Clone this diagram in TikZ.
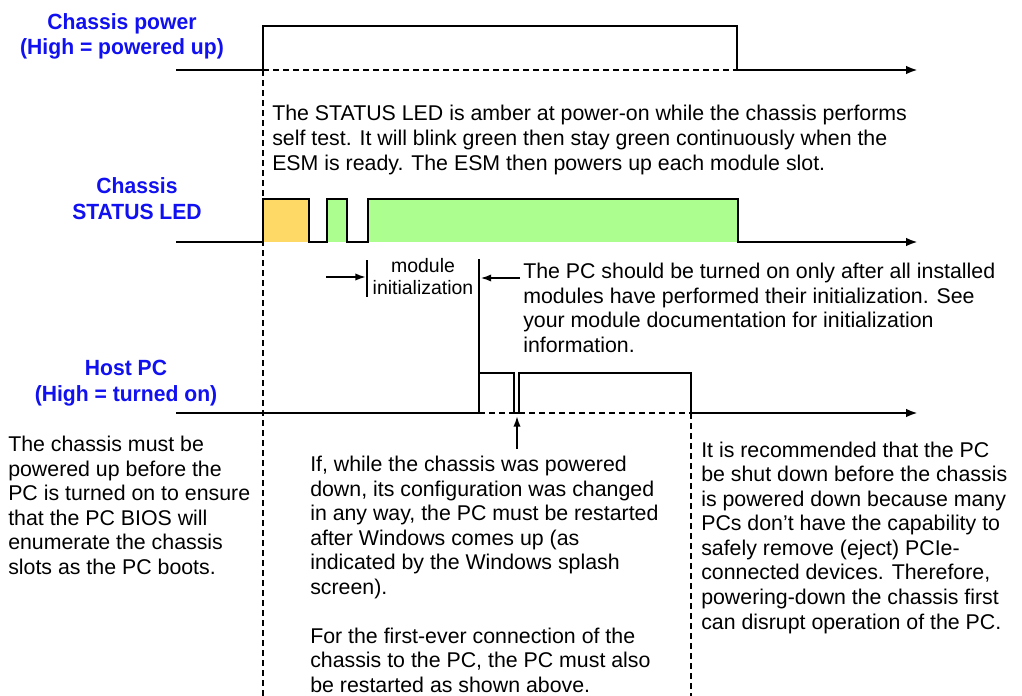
\documentclass[tikz,border=0pt]{standalone}
\usepackage{fontspec}
\setmainfont{Liberation Sans}
\newfontfamily\bodyfont{Liberation Sans}[FakeStretch=1.0]
\newfontfamily\labelfont{Liberation Sans}[FakeStretch=0.96]
\usetikzlibrary{arrows.meta}
\definecolor{lblue}{RGB}{16,16,240}
\definecolor{amber}{RGB}{255,217,102}
\definecolor{ledgreen}{RGB}{172,255,142}
\begin{document}
\begin{tikzpicture}[x=0.75pt,y=-0.75pt,
  sig/.style={line width=1.9pt, line join=miter},
  sigarrow/.style={sig, -{Latex[length=9pt,width=6.5pt]}},
  guide/.style={dash pattern=on 4.5pt off 3pt, line width=1.1pt},
  thinline/.style={line width=1.1pt},
  thinarrow/.style={line width=1.4pt, -{Latex[length=8pt,width=5.5pt]}},
  body/.style={font=\bodyfont\fontsize{16}{18.4}\selectfont, align=left, anchor=base west, inner sep=0pt},
  small/.style={font=\bodyfont\fontsize{14.6}{16.5}\selectfont, align=center, anchor=base, inner sep=0pt},
  lbl/.style={font=\labelfont\bfseries\fontsize{16.5}{19.5}\selectfont, text=lblue, align=center, anchor=base, inner sep=0pt}]
\useasboundingbox (0,0) rectangle (1022,696);

% labels (anchored at the baseline of the last line)
\node[lbl] (lpow) at (122,55) {Chassis power\\(High = powered up)};
\node[lbl] (lled) at (137,219) {Chassis\\STATUS LED};
\node[lbl] (lpc) at (126,401) {Host PC\\(High = turned on)};

% LED fills
\fill[amber] (263,199) rectangle (309,242);
\fill[ledgreen] (327,199) rectangle (347,242);
\fill[ledgreen] (368,199) rectangle (738,242);

% guides
\coordinate (g1t) at (263,70);
\coordinate (g1b) at (263,696);
\coordinate (g2t) at (691,413);
\coordinate (g2b) at (691,696);
\draw[guide] (g1t) -- (g1b);
\draw[guide] (g2t) -- (g2b);
\draw[guide] (263,70) -- (737,70);
\draw[guide] (479,413) -- (691,413);

% chassis power
\coordinate (p0) at (176,70);
\coordinate (pe) at (918,70);
\draw[sigarrow] (p0) -- (263,70) -- (263,26) -- (737,26) -- (737,70) -- (pe);

% LED
\coordinate (l0) at (176,242);
\coordinate (le) at (918,242);
\draw[sigarrow] (l0) -- (263,242) -- (263,199) -- (309,199) -- (309,242) -- (327,242) -- (327,199) -- (347,199) -- (347,242) -- (368,242) -- (368,199) -- (738,199) -- (738,242) -- (le);

% Host PC
\coordinate (h0) at (176,413);
\coordinate (he) at (918,413);
\draw[sigarrow] (h0) -- (479,413) -- (479,373) -- (514,373) -- (514,413) -- (519,413) -- (519,373) -- (691,373) -- (691,413) -- (he);

% module initialization
\coordinate (ma) at (326,277);
\coordinate (mbt) at (367,260);
\coordinate (mbb) at (367,297);
\coordinate (mb) at (366,277);
\draw[thinline] (mbt) -- (mbb);
\draw[thinarrow] (ma) -- (mb);
\node[small] (mtext) at (423,294) {module\\initialization};
\coordinate (rvt) at (479,259);
\coordinate (rvb) at (479,373);
\draw[thinline] (rvt) -- (rvb);
\coordinate (ra) at (520,278);
\coordinate (rb) at (480.5,278);
\draw[thinarrow] (ra) -- (rb);

% restart arrow
\coordinate (ua) at (517,449);
\coordinate (ub) at (517,416);
\draw[thinarrow] (ua) -- (ub);

% texts (anchored at the baseline of the last line)
\node[body] (t1) at (272,170) {The STATUS LED is amber at power-on while the chassis performs\\self test. It will blink green then stay green continuously when the\\ESM is ready. The ESM then powers up each module slot.};
\node[body] (t2) at (523,352.5) {The PC should be turned on only after all installed\\modules have performed their initialization. See\\your module documentation for initialization\\information.};
\node[body] (t3) at (8,574.5) {The chassis must be\\powered up before the\\PC is turned on to ensure\\that the PC BIOS will\\enumerate the chassis\\slots as the PC boots.};
\node[body] (t4) at (310,692.5) {If, while the chassis was powered\\down, its configuration was changed\\in any way, the PC must be restarted\\after Windows comes up (as\\indicated by the Windows splash\\screen).\\[18.4pt]For the first-ever connection of the\\chassis to the PC, the PC must also\\be restarted as shown above.};
\node[body] (t5) at (701,629) {It is recommended that the PC\\be shut down before the chassis\\is powered down because many\\PCs don’t have the capability to\\safely remove (eject) PCIe-\\connected devices. Therefore,\\powering-down the chassis first\\can disrupt operation of the PC.};
\end{tikzpicture}
\end{document}
